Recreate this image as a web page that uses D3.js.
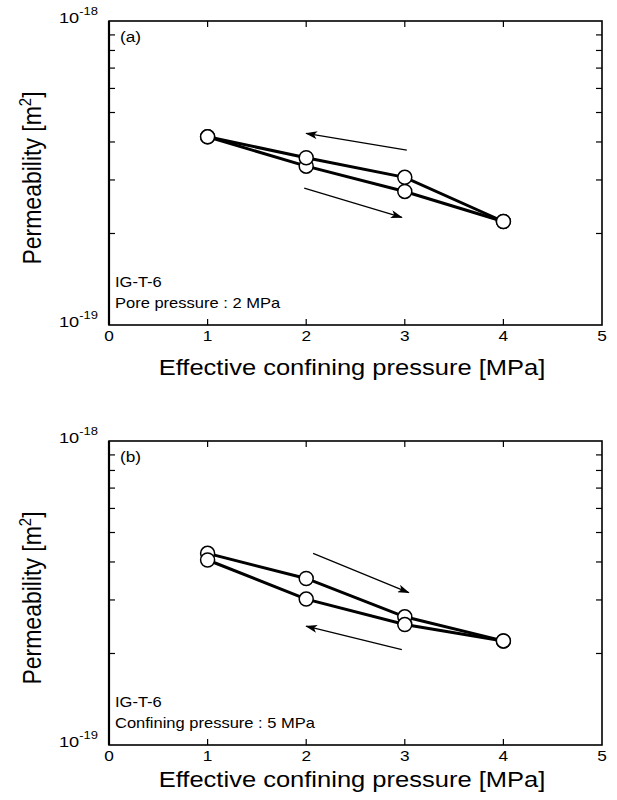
<!DOCTYPE html>
<html>
<head>
<meta charset="utf-8">
<script src="https://cdn.jsdelivr.net/npm/d3@7"></script>
<style>
  body { margin: 0; background: #fff; }
  text { font-family: "Liberation Sans", Arial, sans-serif; fill: #000; }
</style>
</head>
<body>
<svg id="chart" width="617" height="800"></svg>
<script>
// pressure steps (MPa)
const pressure = [1, 2, 3, 4];

// panel (a): pore pressure 2 MPa
const aLoading = [4.16e-19, 3.33e-19, 2.75e-19, 2.19e-19];   // 1 -> 4
const aUnloading = [4.16e-19, 3.55e-19, 3.06e-19, 2.19e-19]; // 4 -> 1

// panel (b): confining pressure 5 MPa
const bLoading = [4.27e-19, 3.53e-19, 2.64e-19, 2.20e-19];
const bUnloading = [4.06e-19, 3.02e-19, 2.49e-19, 2.20e-19];

// direction arrows [x1, k1, x2, k2]
const aArrows = [[3.02, 3.76e-19, 2.00, 4.27e-19], [1.98, 2.82e-19, 2.97, 2.26e-19]];
const bArrows = [[2.07, 4.27e-19, 3.04, 3.17e-19], [2.97, 2.06e-19, 2.00, 2.46e-19]];

const xTicks = [0, 1, 2, 3, 4, 5];
const yMajor = [1e-19, 1e-18];
const yMinor = [2e-19, 3e-19, 4e-19, 5e-19, 6e-19, 7e-19, 8e-19, 9e-19];

const svg = d3.select("#chart");
const left = 109, right = 602, plotH = 304;

svg.append("defs").append("marker")
  .attr("id", "head")
  .attr("viewBox", "0 0 12 8")
  .attr("refX", 11).attr("refY", 4)
  .attr("markerWidth", 13).attr("markerHeight", 8)
  .attr("markerUnits", "userSpaceOnUse")
  .attr("orient", "auto")
  .append("path")
  .attr("d", "M0,0 L12,4 L0,8 L3,4 Z")
  .attr("fill", "#000");

// text is a bit wider than plain Arial in the original, so stretch it in x
function label(g, x, y, size, sx, anchor, str) {
  return g.append("text")
    .attr("transform", "translate(" + x + "," + y + ") scale(" + sx + ",1)")
    .attr("text-anchor", anchor).attr("font-size", size).text(str);
}

function drawPanel(top, loading, unloading, arrows, tag, note, titleGap) {
  const x = d3.scaleLinear().domain([0, 5]).range([left, right]);
  const y = d3.scaleLog().domain([1e-19, 1e-18]).range([top + plotH, top]);
  const g = svg.append("g");

  // frame
  g.append("rect")
    .attr("x", left).attr("y", top)
    .attr("width", right - left).attr("height", plotH)
    .attr("fill", "none").attr("stroke", "#000").attr("stroke-width", 1.6);
  g.append("line")
    .attr("x1", left).attr("x2", left).attr("y1", top).attr("y2", top + plotH)
    .attr("stroke", "#000").attr("stroke-width", 2.2);

  // inward ticks
  const tl = 6;
  xTicks.slice(1, -1).forEach(t => {
    g.append("line").attr("x1", x(t)).attr("x2", x(t))
      .attr("y1", top + plotH).attr("y2", top + plotH - tl).attr("stroke", "#000").attr("stroke-width", 1.2);
    g.append("line").attr("x1", x(t)).attr("x2", x(t))
      .attr("y1", top).attr("y2", top + tl).attr("stroke", "#000").attr("stroke-width", 1.2);
  });
  yMinor.forEach(t => {
    g.append("line").attr("x1", left).attr("x2", left + tl)
      .attr("y1", y(t)).attr("y2", y(t)).attr("stroke", "#000").attr("stroke-width", 1.2);
    g.append("line").attr("x1", right).attr("x2", right - tl)
      .attr("y1", y(t)).attr("y2", y(t)).attr("stroke", "#000").attr("stroke-width", 1.2);
  });

  // tick labels
  xTicks.forEach(d => label(g, x(d), top + plotH + 16, 15, 1.15, "middle", d));
  yMajor.forEach(v => {
    const t = label(g, 98, y(v) + 2, 14, 1.3, "end", "");
    t.append("tspan").text("10");
    t.append("tspan").attr("dy", -8).attr("font-size", 10).text("-" + Math.round(-Math.log10(v)));
  });

  // axis titles
  g.append("text")
    .attr("transform", "translate(41," + (top + 157) + ") scale(1.1,1) rotate(-90)")
    .attr("text-anchor", "middle").attr("font-size", 23)
    .call(t => {
      t.append("tspan").text("Permeability [m");
      t.append("tspan").attr("dy", -9).attr("font-size", 15).text("2");
      t.append("tspan").attr("dy", 9).text("]");
    });
  label(g, 352, top + plotH + titleGap, 22, 1.16, "middle", "Effective confining pressure [MPa]");

  // notes
  label(g, 120, top + 21, 15, 1.15, "start", tag);
  label(g, 115, top + plotH - 38, 14, 1.18, "start", "IG-T-6");
  label(g, 115, top + plotH - 17, 14, 1.18, "start", note);

  // arrows
  g.selectAll(".arr").data(arrows).enter().append("line")
    .attr("x1", d => x(d[0])).attr("y1", d => y(d[1]))
    .attr("x2", d => x(d[2])).attr("y2", d => y(d[3]))
    .attr("stroke", "#000").attr("stroke-width", 1.2)
    .attr("marker-end", "url(#head)");

  // data lines and points
  const line = d3.line().x((d, i) => x(pressure[i])).y(d => y(d));
  [loading, unloading].forEach(s => {
    g.append("path").datum(s).attr("d", line)
      .attr("fill", "none").attr("stroke", "#000").attr("stroke-width", 3);
  });
  [loading, unloading].forEach(s => {
    g.selectAll(null).data(s).enter().append("circle")
      .attr("cx", (d, i) => x(pressure[i])).attr("cy", d => y(d))
      .attr("r", 7).attr("fill", "#fff").attr("stroke", "#000").attr("stroke-width", 1.5);
  });
}

drawPanel(21, aLoading, aUnloading, aArrows, "(a)", "Pore pressure : 2 MPa", 50);
drawPanel(441, bLoading, bUnloading, bArrows, "(b)", "Confining pressure : 5 MPa", 42);
</script>
</body>
</html>
